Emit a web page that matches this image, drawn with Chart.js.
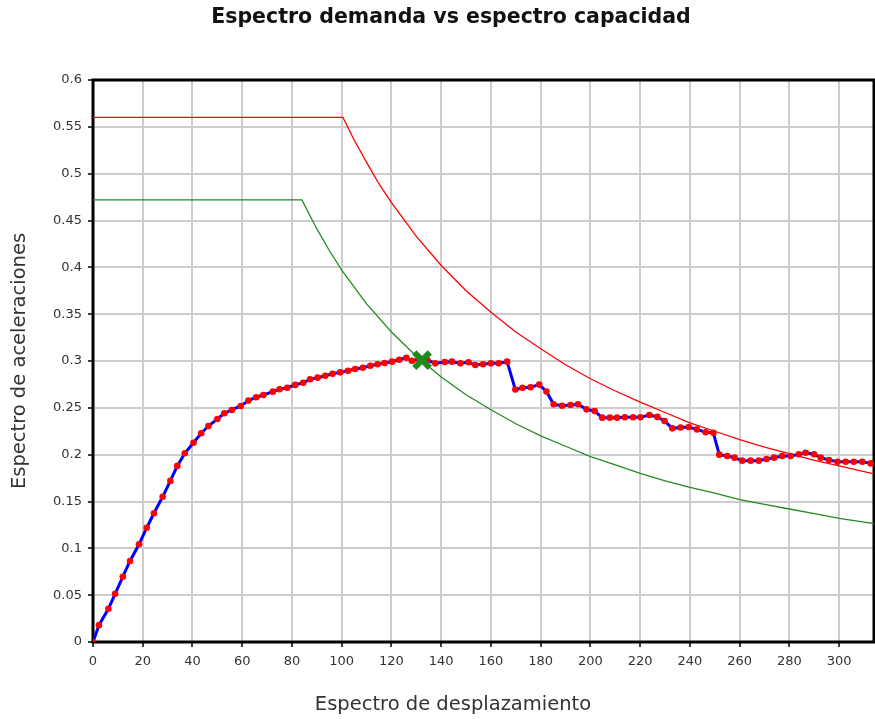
<!DOCTYPE html>
<html>
<head>
<meta charset="utf-8">
<title>Espectro demanda vs espectro capacidad</title>
<script src="https://cdn.jsdelivr.net/npm/chart.js@4.4.1/dist/chart.umd.min.js"></script>
<style>
  html, body { margin: 0; padding: 0; background: #fff; }
</style>
</head>
<body>
<canvas id="espectroChart" width="875" height="719"></canvas>
<script>
// curva de capacidad (desplazamiento espectral, aceleración espectral)
const capacidadSd = [0, 2.4, 6.2, 8.9, 12.0, 14.9, 18.5, 21.6, 24.5, 28.0, 31.1, 33.9, 36.9, 40.4, 43.5, 46.4,
  50.0, 52.8, 55.8, 59.4, 62.5, 65.6, 68.5, 72.3, 75.0, 78.1, 81.3, 84.5, 87.3, 90.3, 93.4, 96.3, 99.4,
  102.5, 105.4, 108.5, 111.5, 114.4, 117.2, 120.2, 123.1, 126.0, 128.2, 131.2, 134.4, 137.6, 141.4, 144.3,
  147.7, 151.0, 153.7, 156.8, 160.0, 163.1, 166.5, 169.8, 172.7, 175.9, 179.4, 182.3, 185.2, 188.6, 192.0,
  195.0, 198.4, 201.7, 204.7, 207.8, 210.7, 213.8, 217.2, 220.1, 223.7, 226.9, 229.8, 232.9, 236.2, 239.5,
  242.8, 246.3, 249.4, 251.8, 255.0, 257.9, 261.0, 264.4, 267.7, 270.8, 273.8, 277.1, 280.5, 283.8, 286.5,
  289.9, 292.6, 295.9, 299.3, 302.6, 305.9, 309.3, 312.7];
const capacidadSa = [0, 0.018, 0.0355, 0.0515, 0.0697, 0.0865, 0.1043, 0.122, 0.1374, 0.155, 0.172, 0.188,
  0.2015, 0.2128, 0.2229, 0.2306, 0.2381, 0.2442, 0.2477, 0.252, 0.2577, 0.2613, 0.2637, 0.2673, 0.2698,
  0.2715, 0.2745, 0.2768, 0.2805, 0.2822, 0.2843, 0.2864, 0.2879, 0.2896, 0.2914, 0.2928, 0.295, 0.2965,
  0.2979, 0.2993, 0.3014, 0.3035, 0.3003, 0.302, 0.301, 0.2975, 0.2989, 0.2993, 0.2975, 0.2986, 0.2957,
  0.2965, 0.2975, 0.2975, 0.2993, 0.2695, 0.2715, 0.272, 0.2748, 0.2675, 0.2538, 0.2523, 0.253, 0.2538,
  0.2484, 0.2466, 0.2395, 0.2395, 0.2395, 0.2399, 0.2399, 0.2399, 0.2423, 0.2403, 0.236, 0.2281, 0.229,
  0.2295, 0.227, 0.224, 0.2233, 0.2, 0.1986, 0.1968, 0.1936, 0.1936, 0.1936, 0.1954, 0.1968, 0.1986,
  0.1986, 0.2004, 0.2021, 0.2004, 0.1968, 0.1943, 0.1925, 0.1925, 0.1925, 0.1925, 0.1907];

// espectro de demanda elástico
const demandaSd = [0, 100.5, 105, 110, 115, 120, 130, 140, 150, 160, 170, 180, 190, 200, 210, 220, 230,
  240, 250, 260, 270, 280, 290, 300, 310, 318];
const demandaSa = [0.56, 0.56, 0.536, 0.512, 0.489, 0.469, 0.433, 0.402, 0.375, 0.352, 0.331, 0.313,
  0.296, 0.281, 0.268, 0.256, 0.245, 0.234, 0.225, 0.216, 0.208, 0.201, 0.194, 0.188, 0.182, 0.177];

// espectro de demanda reducido
const reducidoSd = [0, 84, 90, 95, 100, 110, 120, 130, 140, 150, 160, 170, 180, 190, 200, 210, 220, 230,
  240, 250, 260, 270, 280, 290, 300, 310, 318];
const reducidoSa = [0.472, 0.472, 0.441, 0.418, 0.397, 0.361, 0.331, 0.305, 0.283, 0.264, 0.248, 0.233,
  0.220, 0.209, 0.198, 0.189, 0.180, 0.172, 0.165, 0.159, 0.152, 0.147, 0.142, 0.137, 0.132, 0.128, 0.125];

// punto de desempeño
const desempenoSd = [132.3];
const desempenoSa = [0.301];

const xTicks = [0, 20, 40, 60, 80, 100, 120, 140, 160, 180, 200, 220, 240, 260, 280, 300];

function pares(xs, ys) {
  return xs.map(function (x, i) { return { x: x, y: ys[i] }; });
}

const fuente = 'DejaVu Sans, Verdana, sans-serif';

// marco negro alrededor del área de trazado
const marcoPlugin = {
  id: 'marco',
  beforeDatasetsDraw: function (chart) {
    const a = chart.chartArea;
    const ctx = chart.ctx;
    ctx.save();
    ctx.strokeStyle = '#000';
    ctx.lineWidth = 3;
    ctx.strokeRect(a.left, a.top, a.right - a.left, a.bottom - a.top);
    ctx.restore();
  }
};

// título y rótulo del eje de desplazamientos
const rotulosPlugin = {
  id: 'rotulos',
  afterDraw: function (chart) {
    const ctx = chart.ctx;
    ctx.save();
    ctx.textAlign = 'center';
    ctx.textBaseline = 'middle';
    ctx.fillStyle = '#111';
    ctx.font = 'bold 20.5px ' + fuente;
    ctx.fillText('Espectro demanda vs espectro capacidad', 451, 18);
    ctx.fillStyle = '#333';
    ctx.font = '19.5px ' + fuente;
    ctx.fillText('Espectro de desplazamiento', 453, 705);
    ctx.restore();
  }
};

const ctx = document.getElementById('espectroChart').getContext('2d');
const espectroChart = new Chart(ctx, {
  type: 'scatter',
  data: {
    datasets: [
      {
        label: 'Punto de desempeño',
        data: pares(desempenoSd, desempenoSa),
        pointStyle: 'crossRot',
        pointRadius: 11,
        borderWidth: 6,
        borderColor: '#1f8a1f',
        backgroundColor: '#1f8a1f',
        showLine: false
      },
      {
        label: 'Capacidad',
        data: pares(capacidadSd, capacidadSa),
        showLine: true,
        borderColor: '#0000ff',
        borderWidth: 3,
        pointRadius: 3.3,
        pointBackgroundColor: '#ff0000',
        pointBorderWidth: 0,
        tension: 0
      },
      {
        label: 'Demanda',
        data: pares(demandaSd, demandaSa),
        showLine: true,
        borderColor: '#ff0000',
        borderWidth: 1.3,
        pointRadius: 0,
        tension: 0
      },
      {
        label: 'Demanda reducida',
        data: pares(reducidoSd, reducidoSa),
        showLine: true,
        borderColor: '#228b22',
        borderWidth: 1.3,
        pointRadius: 0,
        tension: 0
      }
    ]
  },
  options: {
    responsive: false,
    animation: false,
    devicePixelRatio: 1,
    layout: {
      autoPadding: false,
      padding: { top: 80, right: 1, bottom: 0, left: 0 }
    },
    plugins: {
      legend: { display: false },
      tooltip: { enabled: false },
      title: { display: false }
    },
    scales: {
      x: {
        type: 'linear',
        min: 0,
        max: 314,
        afterBuildTicks: function (axis) {
          axis.ticks = xTicks.map(function (v) { return { value: v }; });
        },
        afterFit: function (axis) {
          axis.height = 77;
          axis.paddingLeft = 0;
          axis.paddingRight = 0;
        },
        border: { display: false },
        grid: {
          color: '#cdcdcd',
          lineWidth: 2,
          tickColor: '#000',
          tickLength: 5,
          tickWidth: 1.5
        },
        ticks: {
          color: '#333',
          padding: 7,
          maxRotation: 0,
          font: { family: fuente, size: 13 }
        }
      },
      y: {
        min: 0,
        max: 0.6,
        afterFit: function (axis) {
          axis.width = 93;
          axis.paddingTop = 0;
          axis.paddingBottom = 0;
        },
        border: { display: false },
        grid: {
          color: '#cdcdcd',
          lineWidth: 2,
          tickColor: '#000',
          tickLength: 5,
          tickWidth: 1.5
        },
        ticks: {
          stepSize: 0.05,
          color: '#333',
          padding: 6,
          font: { family: fuente, size: 13 },
          callback: function (v) { return String(Number(v.toFixed(2))); }
        },
        title: {
          display: true,
          text: 'Espectro de aceleraciones',
          color: '#333',
          padding: { top: 8, bottom: 0 },
          font: { family: fuente, size: 19.5 }
        }
      }
    }
  },
  plugins: [marcoPlugin, rotulosPlugin]
});
</script>
</body>
</html>
